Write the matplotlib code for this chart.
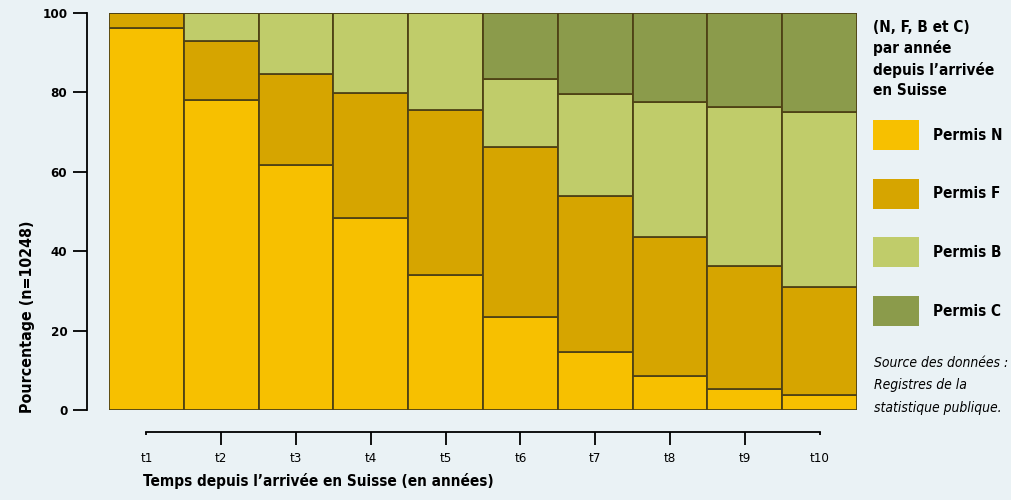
import numpy as np
import matplotlib
matplotlib.use('Agg')
import matplotlib.pyplot as plt
from matplotlib.patches import Rectangle

# Share of each permit type (%) per year since arrival in Switzerland
periods = ['t1', 't2', 't3', 't4', 't5', 't6', 't7', 't8', 't9', 't10']
permis_n = [96.2, 78.1, 61.6, 48.4, 34.0, 23.4, 14.6, 8.6, 5.4, 3.8]
permis_f = [3.8, 14.8, 23.1, 31.5, 41.5, 42.8, 39.3, 34.9, 30.8, 27.2]
permis_b = [0.0, 7.1, 15.3, 20.1, 24.5, 17.2, 25.6, 34.1, 40.0, 44.1]
permis_c = [0.0, 0.0, 0.0, 0.0, 0.0, 16.6, 20.5, 22.4, 23.8, 24.9]
series_labels = ['Permis N', 'Permis F', 'Permis B', 'Permis C']
colors = ['#F7C000', '#D6A500', '#C0CC6A', '#8B9B4B']
y_ticks = [0, 20, 40, 60, 80, 100]

bg = '#EAF2F5'
plt.rcParams['font.family'] = ['DejaVu Sans']
plt.rcParams['font.stretch'] = 'condensed'

fig = plt.figure(figsize=(10.11, 5.0), dpi=100, facecolor=bg)
ax = fig.add_axes([109 / 1011, 90 / 500, 748 / 1011, 397 / 500])
ax.set_facecolor(bg)

x = np.arange(len(periods))
bottom = np.zeros(len(periods))
for vals, col in zip([permis_n, permis_f, permis_b, permis_c], colors):
    vals = np.array(vals)
    ax.bar(x, vals, width=1.0, bottom=bottom, color=col,
           edgecolor='#4f4215', linewidth=1.3)
    bottom += vals

ax.set_xlim(-0.5, 9.5)
ax.set_ylim(0, 100)

for s in ['top', 'right']:
    ax.spines[s].set_visible(False)
ax.spines['left'].set_position(('outward', 16))
ax.spines['bottom'].set_position(('outward', 16))
ax.spines['left'].set_bounds(0, 100)
ax.spines['bottom'].set_bounds(0, 9)
ax.spines['left'].set_linewidth(1.3)
ax.spines['bottom'].set_linewidth(1.3)

ax.set_yticks(y_ticks)
ax.set_yticklabels([str(v) for v in y_ticks], fontsize=9.5, fontweight='bold')
ax.set_xticks(x)
ax.set_xticklabels(periods, fontsize=9.5)
ax.tick_params(axis='y', length=10, width=1.3, pad=4)
ax.tick_params(axis='x', length=9, width=1.3, pad=5)
xt = ax.xaxis.get_major_ticks()
xt[0].tick1line.set_markersize(2)
xt[-1].tick1line.set_markersize(2)

fig.text(28 / 1011, 1 - 317 / 500, 'Pourcentage (n=10248)', rotation=90,
         ha='center', va='center', fontsize=11.4, fontweight='bold')
fig.text(143 / 1011, 1 - 481 / 500, "Temps depuis l\u2019arrivée en Suisse (en années)",
         ha='left', va='center', fontsize=11, fontweight='bold')

# legend block on the right
title_lines = ['(N, F, B et C)', 'par année', "depuis l\u2019arrivée", 'en Suisse']
for i, line in enumerate(title_lines):
    fig.text(873 / 1011, 1 - (27 + i * 21.3) / 500, line, ha='left', va='center',
             fontsize=11, fontweight='bold')

for i, (lab, col) in enumerate(zip(series_labels, colors)):
    top = 120 + i * 58.7
    fig.patches.append(Rectangle((873 / 1011, 1 - (top + 30) / 500), 46 / 1011, 30 / 500,
                                 transform=fig.transFigure, facecolor=col, edgecolor='none'))
    fig.text(933 / 1011, 1 - (top + 15) / 500, lab, ha='left', va='center',
             fontsize=11, fontweight='bold')

source_lines = ['Source des données :', 'Registres de la', 'statistique publique.']
for i, line in enumerate(source_lines):
    fig.text(874 / 1011, 1 - (363 + i * 22.3) / 500, line, ha='left', va='center',
             fontsize=10, style='italic')

fig.savefig('out.png', dpi=100, facecolor=bg)
